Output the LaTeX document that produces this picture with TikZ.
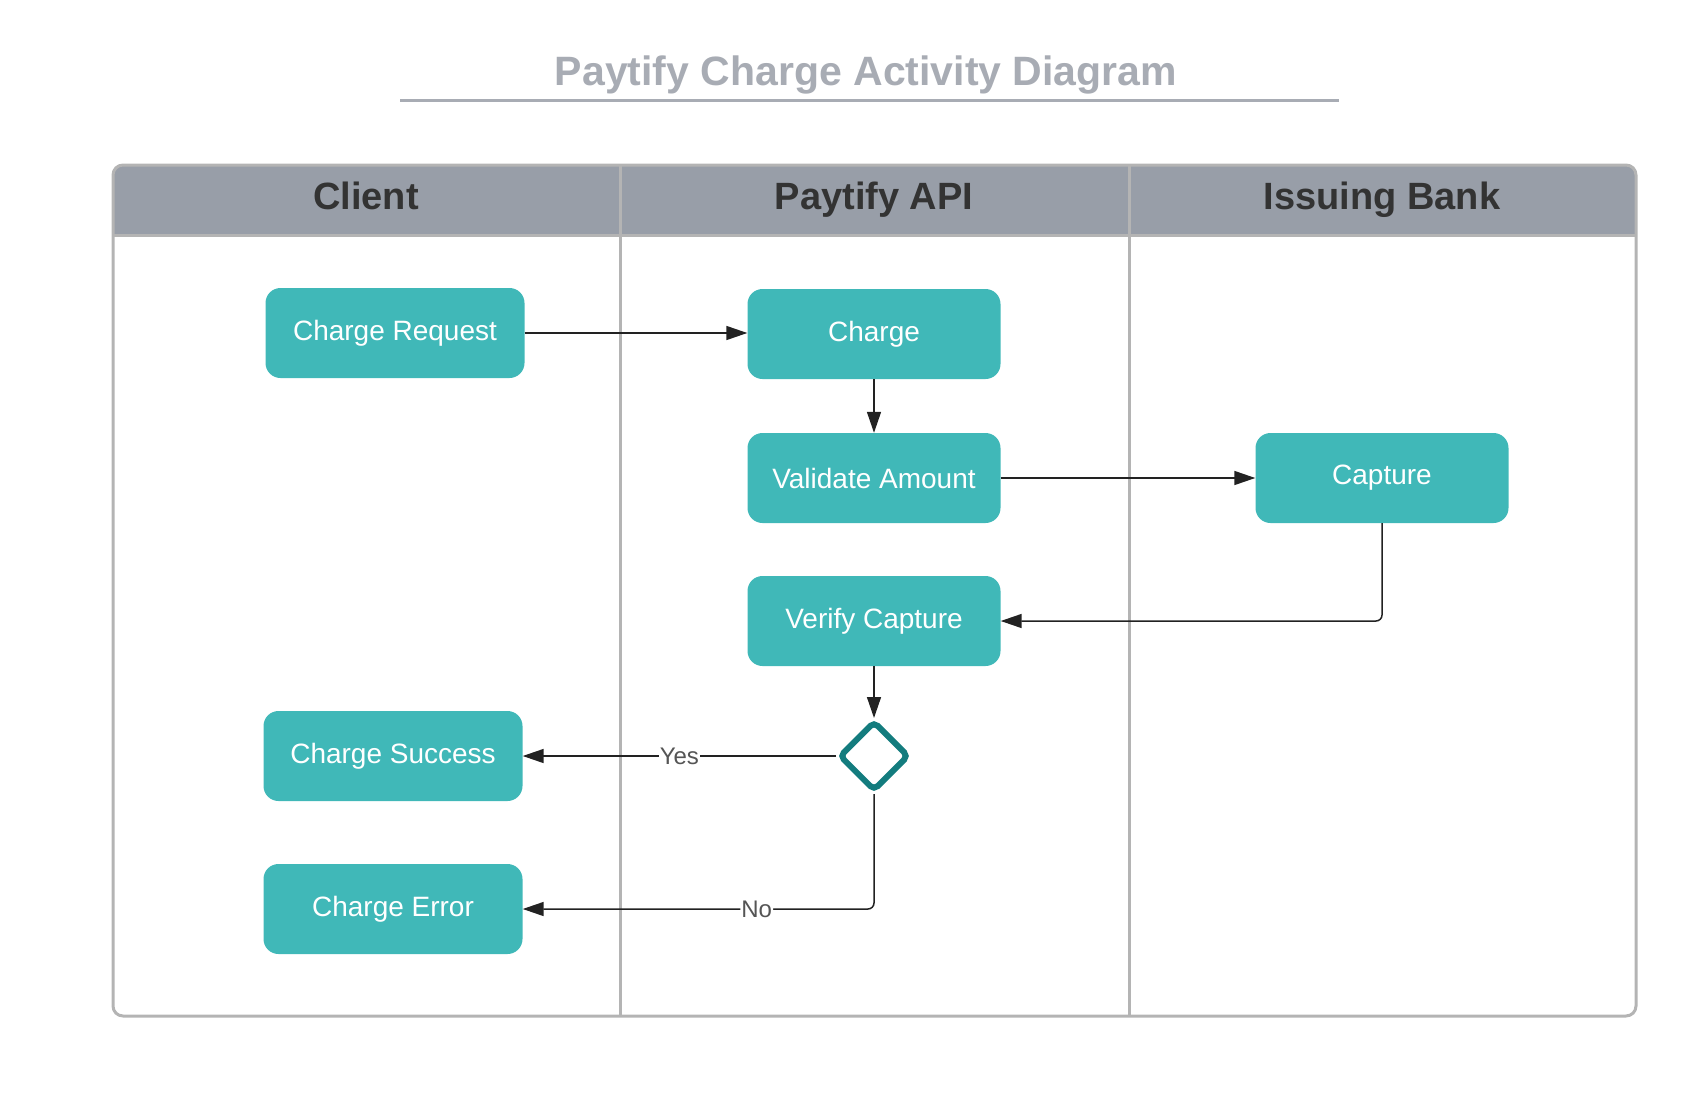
\documentclass[tikz,border=0pt]{standalone}
\usepackage{fontspec}
\setmainfont{Liberation Sans}
\usetikzlibrary{arrows.meta,shapes.geometric}
\definecolor{boxfill}{HTML}{40B8B8}
\definecolor{decstroke}{HTML}{137C7E}
\definecolor{headfill}{HTML}{989EA8}
\definecolor{laneline}{HTML}{B4B4B4}
\definecolor{titlecol}{HTML}{A8ACB4}
\definecolor{headtext}{HTML}{333333}
\definecolor{labeltext}{HTML}{555555}
\definecolor{linecol}{HTML}{222222}
\tikzset{
  actbox/.style={rectangle, rounded corners=15pt, fill=boxfill, text=white,
    minimum width=253pt, minimum height=90pt, inner sep=0pt,
    font=\fontsize{28}{33}\selectfont},
  headlabel/.style={text=headtext, anchor=base, font=\fontsize{38}{44}\selectfont\bfseries},
  decision/.style={diamond, draw=decstroke, line width=6pt, rounded corners=5pt,
    minimum width=70pt, minimum height=70pt, inner sep=0pt, fill=white},
  flow/.style={draw=linecol, line width=1.5pt, -{Triangle[length=21pt,width=14pt]}},
  flowlabel/.style={fill=white, inner sep=1pt, text=labeltext, font=\fontsize{24}{28}\selectfont},
  lane/.style={draw=laneline, line width=3pt}
}
\begin{document}
\begin{tikzpicture}[x=1pt,y=-1pt]
\useasboundingbox (0,0) rectangle (1700,1100);
% title
\node[text=titlecol, anchor=base, font=\fontsize{41}{48}\selectfont\bfseries] (title) at (866,85) {Paytify Charge Activity Diagram};
\draw[draw=titlecol, line width=3pt] (400,100) -- (1339,100);
% pool
\begin{scope}
  \clip[rounded corners=10pt] (113,165) rectangle (1636,1016);
  \fill[headfill] (113,165) rectangle (1636,235);
\end{scope}
\draw[lane, rounded corners=10pt] (113,165) rectangle (1636,1016);
\draw[lane] (113,235) -- (1636,235);
\draw[lane] (620,165) -- (620,1016);
\draw[lane] (1129,165) -- (1129,1016);
\node[headlabel] (h1) at (366,209) {Client};
\node[headlabel] (h2) at (874,209) {Paytify API};
\node[headlabel] (h3) at (1382,209) {Issuing Bank};
% activities
\node[actbox, minimum width=259pt] (req) at (395,333) {Charge Request};
\node[actbox] (charge) at (874,334) {Charge};
\node[actbox] (validate) at (874,478) {Validate Amount};
\node[actbox] (capture) at (1382,478) {Capture};
\node[actbox] (verify) at (874,621) {Verify Capture};
\node[actbox, minimum width=259pt] (success) at (393,756) {Charge Success};
\node[actbox, minimum width=259pt] (error) at (393,909) {Charge Error};
\node[decision] (dec) at (874,756) {};
% connectors
\draw[flow] (req.east) -- (req.east -| charge.west);
\draw[flow] (charge.south) -- (validate.north);
\draw[flow] (validate.east) -- (validate.east -| capture.west);
\draw[flow, rounded corners=6pt] (capture.south) |- (verify.east);
\draw[flow] (verify.south) -- (dec.north);
\draw[flow] (dec.west) -- node[flowlabel] (yes) {Yes} (success.east);
\draw[flow, rounded corners=6pt] (dec.south) |- node[flowlabel, pos=0.667] (no) {No} (error.east);
\end{tikzpicture}
\end{document}
